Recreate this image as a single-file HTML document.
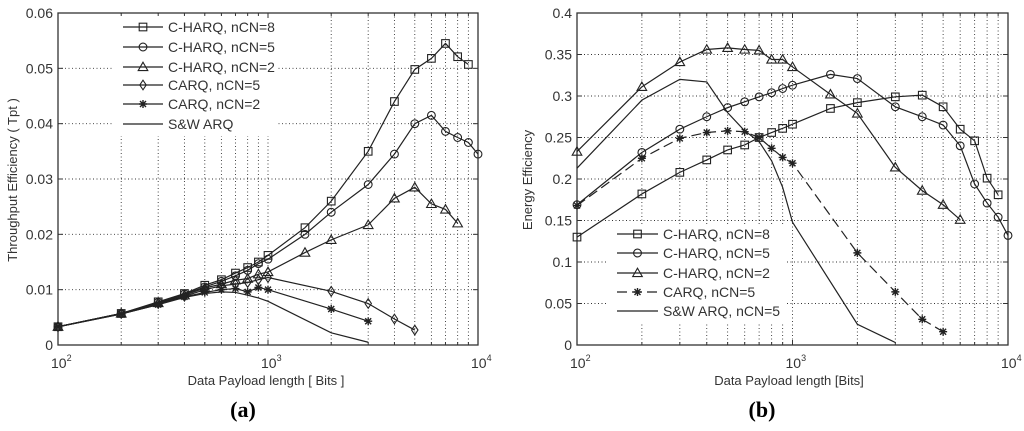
<!DOCTYPE html>
<html><head><meta charset="utf-8"><style>
html,body{margin:0;padding:0;background:#fff;}
svg{display:block;font-family:"Liberation Sans",sans-serif;}
</style></head><body>
<svg id="chart" width="1024" height="431" viewBox="0 0 1024 431" xmlns="http://www.w3.org/2000/svg"></svg>
<script>
// ---- shared x categories ----
const xA = [100,200,300,400,500,600,700,800,900,1000,1500,2000,3000,4000,5000,6000,7000,8000,9000,10000];
// ---- panel (a) throughput ----
const a_charq8 = [0.0033,0.0057,0.0078,0.0093,0.0108,0.0118,0.013,0.014,0.015,0.0162,0.0212,0.026,0.035,0.044,0.0498,0.0518,0.0545,0.0521,0.0507];
const a_charq5 = [0.0033,0.0057,0.0077,0.0092,0.0105,0.0115,0.0125,0.0135,0.0147,0.0155,0.020,0.024,0.029,0.0345,0.040,0.0415,0.0386,0.0375,0.0366,0.0345];
const a_charq2 = [0.0033,0.0057,0.0076,0.009,0.0103,0.011,0.0117,0.012,0.0128,0.0132,0.0167,0.019,0.0217,0.0265,0.0285,0.0255,0.0245,0.022];
const a_carqX = [100,200,300,400,500,600,700,800,900,1000,2000,3000,4000,5000];
const a_carq5 = [0.0033,0.0057,0.0075,0.0088,0.0100,0.0107,0.011,0.0113,0.0118,0.0122,0.0097,0.0075,0.0047,0.0027];
const a_carq2 = [0.0033,0.0056,0.0073,0.0087,0.0095,0.0100,0.0102,0.0096,0.0104,0.0100,0.0065,0.0043];
const a_sw = [0.0033,0.0056,0.0073,0.0086,0.0093,0.0096,0.0095,0.009,0.0085,0.0079,0.0022,0.0005];
const a_yTicks = ["0","0.01","0.02","0.03","0.04","0.05","0.06"];
// ---- panel (b) energy ----
const b_charq8 = [0.13,0.182,0.208,0.223,0.235,0.241,0.25,0.256,0.261,0.266,0.285,0.292,0.299,0.301,0.287,0.26,0.246,0.201,0.181];
const b_charq5 = [0.169,0.232,0.26,0.275,0.286,0.293,0.299,0.304,0.309,0.313,0.326,0.321,0.287,0.275,0.265,0.24,0.194,0.171,0.154,0.132];
const b_charq2 = [0.233,0.311,0.341,0.356,0.358,0.356,0.355,0.344,0.344,0.335,0.302,0.279,0.214,0.186,0.169,0.151];
const b_carq5 = [0.168,0.225,0.249,0.256,0.258,0.257,0.25,0.237,0.226,0.219,0.111,0.064,0.031,0.016];
const b_sw = [0.213,0.295,0.32,0.317,0.28,0.258,0.245,0.222,0.19,0.148,0.025,0.003];
const b_yTicks = ["0","0.05","0.1","0.15","0.2","0.25","0.3","0.35","0.4"];

const NS="http://www.w3.org/2000/svg";
const svg=document.getElementById('chart');
function mk(tag,attrs,parent){const e=document.createElementNS(NS,tag);for(const k in attrs)e.setAttribute(k,attrs[k]);(parent||svg).appendChild(e);return e;}

function panel(P){
  const g=mk('g',{});
  
  
  const xs=v=>P.x0+(Math.log10(v)-2)/2*(P.x1-P.x0);
  const ys=v=>P.y1-v/P.ymax*(P.y1-P.y0);
  const grid=mk('g',{stroke:'#333','stroke-width':0.9,'stroke-dasharray':'1,2.5',fill:'none'},g);
  
  
  for(let d=2;d<4;d++)for(let m=1;m<10;m++){const v=m*Math.pow(10,d);if(v<=100)continue;const x=xs(v);if(x>=P.x1-1)continue;mk('line',{x1:x,x2:x,y1:P.y0,y2:P.y1},grid);}
  P.yTicks.forEach((t,i)=>{const v=i*P.ystep;const y=ys(v);if(i>0&&i<P.yTicks.length-1)mk('line',{x1:P.x0,x2:P.x1,y1:y,y2:y},grid);});
  const lb=mk('rect',{x:P.leg.x,y:P.leg.y,width:P.leg.w,height:P.leg.h,fill:'#fff'},g);
  
  
  const ax=mk('rect',{x:P.x0,y:P.y0,width:P.x1-P.x0,height:P.y1-P.y0,fill:'none',stroke:'#333','stroke-width':1.3},g);
  
  
  const tk=mk('g',{stroke:'#333','stroke-width':1},g);
  for(let d=2;d<4;d++)for(let m=1;m<10;m++){const v=m*Math.pow(10,d);const x=xs(v);const L=m===1?5:3;mk('line',{x1:x,x2:x,y1:P.y1,y2:P.y1-L},tk);mk('line',{x1:x,x2:x,y1:P.y0,y2:P.y0+L},tk);}
  P.yTicks.forEach((t,i)=>{const y=ys(i*P.ystep);mk('line',{x1:P.x0,x2:P.x0+5,y1:y,y2:y},tk);mk('line',{x1:P.x1,x2:P.x1-5,y1:y,y2:y},tk);
    const tl=mk('text',{x:P.x0-5,y:y+5,'text-anchor':'end','font-size':14,fill:'#333'},g);tl.textContent=t;
    
    });
  [2,3,4].forEach(p=>{const x=xs(Math.pow(10,p));const t=mk('text',{x:x-7,y:P.y1+23,'font-size':14,fill:'#333'},g);t.textContent='10';
    
    
    const s=mk('tspan',{dy:-7,'font-size':9},t);s.textContent=String(p);});
  const xt=mk('text',{x:P.xlabX,y:P.y1+40,'text-anchor':'middle','font-size':13,fill:'#333'},g);xt.textContent=P.xlabel;
  
  
  const yt=mk('text',{x:0,y:0,'text-anchor':'middle','font-size':13,fill:'#333',transform:`translate(${P.ylabX},${P.ylabY}) rotate(-90)`},g);yt.textContent=P.ylabel;
  
  
  P.series.forEach((s,si)=>{
    const sg=mk('g',{},g);
    
    
    const pts=s.vals.map((v,i)=>[xs(s.xs[i]),ys(v)]);
    mk('polyline',{points:pts.map(p=>p.join(',')).join(' '),fill:'none',stroke:'#222','stroke-width':1.2,'stroke-dasharray':s.dash||'none'},sg);
    pts.forEach(p=>marker(sg,s.mk,p[0],p[1]));
    const ly=P.leg.ry[si];
    const le=mk('g',{},g);
    
    
    mk('line',{x1:P.leg.lx0,x2:P.leg.lx1,y1:ly,y2:ly,stroke:'#222','stroke-width':1.2,'stroke-dasharray':s.dash||'none'},le);
    marker(le,s.mk,(P.leg.lx0+P.leg.lx1)/2,ly);
    const lt=mk('text',{x:P.leg.lx1+5,y:ly+5,'font-size':14,fill:'#333'},le);lt.textContent=s.label;
  });
  const sl=mk('text',{x:P.subX,y:417,'text-anchor':'middle','font-size':22,'font-weight':'bold','font-family':'"Liberation Serif",serif',fill:'#000'},g);sl.textContent=P.sub;
  
  
}
function marker(g,t,x,y){
  const st={fill:'none',stroke:'#222','stroke-width':1.1};
  const a=Object.assign({},st);
  if(t==='sq'){mk('rect',Object.assign(a,{x:x-3.8,y:y-3.8,width:7.6,height:7.6}),g);}
  else if(t==='ci'){mk('circle',Object.assign(a,{cx:x,cy:y,r:3.9}),g);}
  else if(t==='tr'){mk('polygon',Object.assign(a,{points:`${x},${y-4.8} ${x-4.8},${y+3.6} ${x+4.8},${y+3.6}`}),g);}
  else if(t==='di'){mk('polygon',Object.assign(a,{points:`${x},${y-4.8} ${x-3.2},${y} ${x},${y+4.8} ${x+3.2},${y}`}),g);}
  else if(t==='st'){mk('path',Object.assign(a,{d:`M${x-4},${y}H${x+4}M${x},${y-4}V${y+4}M${x-3},${y-3}L${x+3},${y+3}M${x-3},${y+3}L${x+3},${y-3}`,'stroke-width':1.4}),g);}
}
panel({name:'panel-a-throughput',x0:58,x1:478,y0:13,y1:345,ymax:0.06,ystep:0.01,yTicks:a_yTicks,
  xlabel:'Data Payload length [ Bits ]',xlabX:266,ylabel:'Throughput Efficiency ( Tpt )',ylabX:17,ylabY:180,sub:'(a)',subX:243,
  leg:{x:113,y:15,w:163,h:121,lx0:123,lx1:163,ry:[27,47,67,85,104,124]},
  series:[
   {id:'charq-ncn8',label:'C-HARQ, nCN=8',xs:xA,vals:a_charq8,mk:'sq'},
   {id:'charq-ncn5',label:'C-HARQ, nCN=5',xs:xA,vals:a_charq5,mk:'ci'},
   {id:'charq-ncn2',label:'C-HARQ, nCN=2',xs:xA,vals:a_charq2,mk:'tr'},
   {id:'carq-ncn5',label:'CARQ, nCN=5',xs:a_carqX,vals:a_carq5,mk:'di'},
   {id:'carq-ncn2',label:'CARQ, nCN=2',xs:a_carqX,vals:a_carq2,mk:'st'},
   {id:'sw-arq',label:'S&W ARQ',xs:a_carqX,vals:a_sw,mk:'none'}]});
panel({name:'panel-b-energy',x0:577,x1:1008,y0:13,y1:345,ymax:0.4,ystep:0.05,yTicks:b_yTicks,
  xlabel:'Data Payload length [Bits]',xlabX:789,ylabel:'Energy Efficiency',ylabX:532,ylabY:180,sub:'(b)',subX:762,
  leg:{x:606,y:224,w:180,h:100,lx0:617,lx1:658,ry:[234,253,273,292,311]},
  series:[
   {id:'charq-ncn8',label:'C-HARQ, nCN=8',xs:xA,vals:b_charq8,mk:'sq'},
   {id:'charq-ncn5',label:'C-HARQ, nCN=5',xs:xA,vals:b_charq5,mk:'ci'},
   {id:'charq-ncn2',label:'C-HARQ, nCN=2',xs:xA,vals:b_charq2,mk:'tr'},
   {id:'carq-ncn5',label:'CARQ, nCN=5',xs:a_carqX,vals:b_carq5,mk:'st',dash:'10,5'},
   {id:'sw-arq',label:'S&W ARQ, nCN=5',xs:a_carqX,vals:b_sw,mk:'none'}]});
</script>
</body></html>
